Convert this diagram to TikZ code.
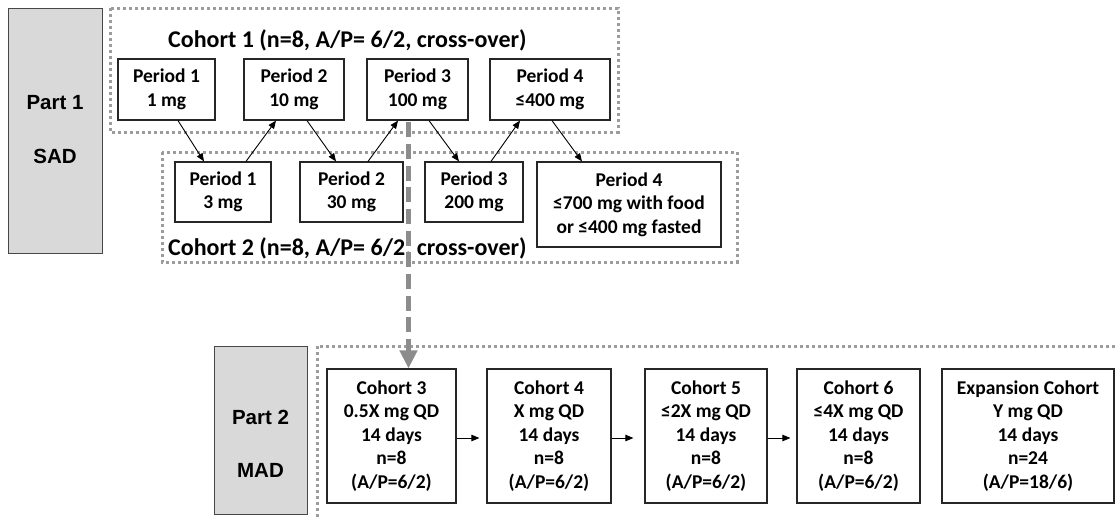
\documentclass[tikz,border=0pt]{standalone}
\usepackage{fontspec}
\setmainfont{Carlito}
\newfontfamily\arialf{Liberation Sans}
\usetikzlibrary{calc,arrows.meta}
\definecolor{partgray}{HTML}{D9D9D9}
\definecolor{dotgray}{HTML}{9C9C9C}
\definecolor{dashgray}{HTML}{8C8C8C}
\definecolor{edgecol}{HTML}{262626}
\begin{document}
\begin{tikzpicture}[x=1pt,y=-1pt,
  box/.style={draw=edgecol, line width=1.2pt, fill=white, inner sep=0pt, align=center,
    font=\fontsize{19.5}{23.4}\selectfont\bfseries},
  partbox/.style={draw=edgecol!85, line width=1pt, fill=partgray},
  partlabel/.style={font=\arialf\fontsize{20.5}{24}\selectfont\bfseries},
  title/.style={anchor=base west, inner sep=0pt, font=\fontsize{24}{28}\selectfont\bfseries},
  cohortframe/.style={draw=dotgray, line width=3pt, dash pattern=on 3pt off 3pt},
  conn/.style={-{Triangle[length=8pt,width=6.5pt]}, line width=0.9pt, draw=black},
  bigarrow/.style={draw=dashgray, line width=4.5pt, dash pattern=on 15pt off 6.7pt,
    -{Triangle[length=18pt,width=17pt]}},
]
\useasboundingbox[fill=white] (0,0) rectangle (1116,517);

% Part boxes
\node[partbox, minimum width=94pt, minimum height=245pt, inner sep=0pt] (part1) at (55,130.5) {};
\node[partlabel] (part1a) at (55,103) {Part 1};
\node[partlabel] (part1b) at (55,156) {SAD};
\node[partbox, minimum width=93pt, minimum height=168pt, inner sep=0pt] (part2) at (260.5,430) {};
\node[partlabel] (part2a) at (260.5,417) {Part 2};
\node[partlabel] (part2b) at (260.5,470) {MAD};

% Dotted frames
\draw[cohortframe] (110,8) rectangle (618,132);
\draw[cohortframe] (162,152) rectangle (737,262);
\draw[cohortframe] (317,517) -- (317,346) -- (1116,346);

% Titles
\node[title] (t1) at (168,47) {Cohort 1 (n=8, A/P= 6/2, cross-over)};
\node[title] (t2) at (168,255) {Cohort 2 (n=8, A/P= 6/2, cross-over)};

% Cohort 1 periods
\node[box, minimum width=97pt, minimum height=61pt] (p1t) at (166.5,89.5) {Period 1\\1 mg};
\node[box, minimum width=100pt, minimum height=61pt] (p2t) at (294,89.5) {Period 2\\10 mg};
\node[box, minimum width=101pt, minimum height=61pt] (p3t) at (417.5,89.5) {Period 3\\100 mg};
\node[box, minimum width=120pt, minimum height=61pt] (p4t) at (550,89.5) {Period 4\\≤400 mg};

% Cohort 2 periods
\node[box, minimum width=96pt, minimum height=60pt] (p1b) at (223,192) {Period 1\\3 mg};
\node[box, minimum width=103pt, minimum height=60pt] (p2b) at (351.5,192) {Period 2\\30 mg};
\node[box, minimum width=98pt, minimum height=60pt] (p3b) at (474,192) {Period 3\\200 mg};
\node[box, minimum width=184pt, minimum height=85pt] (p4b) at (629,204.5) {Period 4\\≤700 mg with food\\or ≤400 mg fasted};

% Crossover arrows
\draw[conn] ($(p1t.south)+(11.5,0)$) -- ($(p1b.north)+(-19,0)$);
\draw[conn] ($(p1b.north)+(23,0)$) -- ($(p2t.south)+(-18,0)$);
\draw[conn] ($(p2t.south)+(13,0)$) -- ($(p2b.north)+(-15.5,0)$);
\draw[conn] ($(p2b.north)+(16.5,0)$) -- ($(p3t.south)+(-19.5,0)$);
\draw[conn] ($(p3t.south)+(11.5,0)$) -- ($(p3b.north)+(-15,0)$);
\draw[conn] ($(p3b.north)+(17,0)$) -- ($(p4t.south)+(-30,0)$);
\draw[conn] ($(p4t.south)+(2,0)$) -- ($(p4b.north)+(-47,0)$);

% MAD cohorts
\node[box, minimum width=129pt, minimum height=134pt] (c3) at (391.5,436) {Cohort 3\\0.5X mg QD\\14 days\\n=8\\(A/P=6/2)};
\node[box, minimum width=124pt, minimum height=134pt] (c4) at (549,436) {Cohort 4\\X mg QD\\14 days\\n=8\\(A/P=6/2)};
\node[box, minimum width=122pt, minimum height=134pt] (c5) at (706,436) {Cohort 5\\≤2X mg QD\\14 days\\n=8\\(A/P=6/2)};
\node[box, minimum width=123pt, minimum height=134pt] (c6) at (858.5,436) {Cohort 6\\≤4X mg QD\\14 days\\n=8\\(A/P=6/2)};
\node[box, minimum width=172pt, minimum height=134pt] (exp) at (1028,436) {Expansion Cohort\\Y mg QD\\14 days\\n=24\\(A/P=18/6)};

\draw[conn, shorten >=7pt] ($(c3.east)+(0,2)$) -- ($(c4.west)+(0,2)$);
\draw[conn, shorten >=11pt] ($(c4.east)+(0,2)$) -- ($(c5.west)+(0,2)$);
\draw[conn, shorten >=6pt] ($(c5.east)+(0,2)$) -- ($(c6.west)+(0,2)$);

% Part 1 -> Part 2 arrow
\coordinate (bstart) at ($(p3t.south)+(-9,1.5)$);
\draw[bigarrow] (bstart) -- (bstart |- c3.north);
\end{tikzpicture}
\end{document}
